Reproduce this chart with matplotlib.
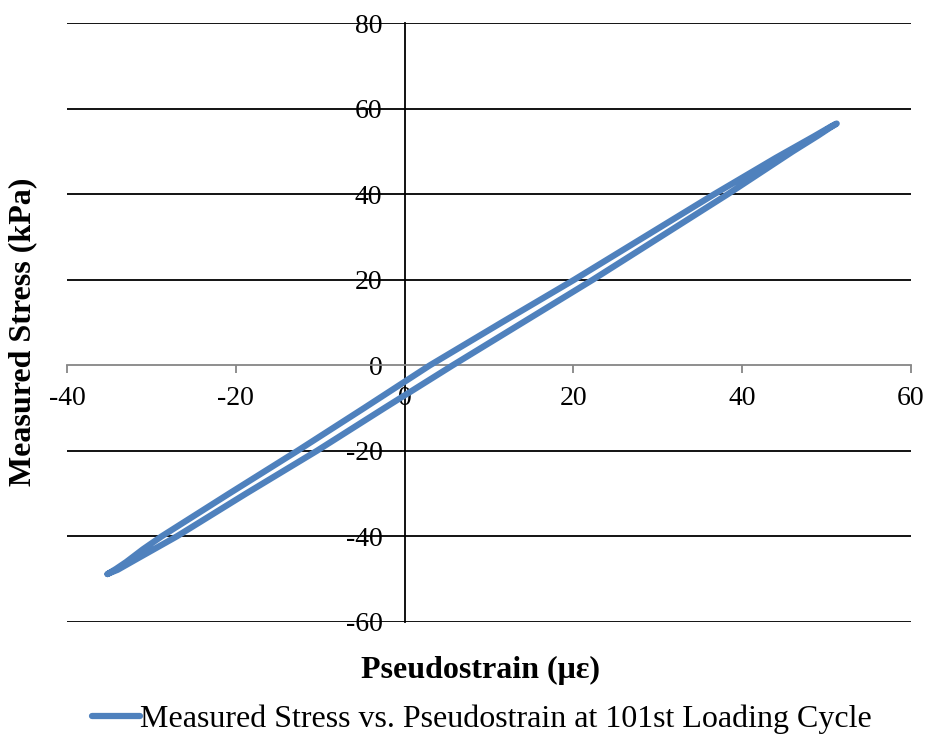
import matplotlib
matplotlib.use("Agg")
import matplotlib.pyplot as plt

plt.rcParams['font.family'] = ['Liberation Serif', 'DejaVu Serif']
plt.rcParams['axes.unicode_minus'] = False

# loop: upper branch left tip -> right tip, then lower branch back
pseudostrain = [-35.2, -34.2, -33.0, -31.0, -28.8, -20.8, -12.7, -4.8, 3.0, 11.5, 20.1, 28.4, 36.7, 44.0, 48.5, 50.6, 51.2,
                50.3, 49.0, 46.0, 38.3, 30.3, 22.3, 14.0, 5.7, -2.4, -10.4, -18.8, -27.0, -31.5, -34.0, -35.0, -35.2]
stress = [-48.8, -47.6, -46.0, -43.0, -40.0, -30.0, -20.0, -10.0, 0.0, 10.0, 20.0, 30.0, 40.0, 48.5, 53.5, 55.9, 56.5,
          55.4, 53.7, 50.0, 40.0, 30.0, 20.0, 10.0, 0.0, -10.0, -20.0, -30.0, -40.0, -45.0, -47.8, -48.6, -48.8]

x_ticks = [-40, -20, 0, 20, 40, 60]
y_ticks = [-60, -40, -20, 0, 20, 40, 60, 80]
series_label = "Measured Stress vs. Pseudostrain at 101st Loading Cycle"

fig = plt.figure(figsize=(9.27, 7.38), dpi=100)
ax = fig.add_axes([0.0723, 0.1572, 0.9104, 0.8116])

line, = ax.plot(pseudostrain, stress, color='#4f81bd', lw=4.5,
                solid_joinstyle='round', solid_capstyle='round', zorder=4)

ax.set_xlim(-40, 60)
ax.set_ylim(-60, 80)
ax.set_xticks(x_ticks)
ax.set_yticks(y_ticks)

for yv in y_ticks:
    if yv != 0:
        ax.axhline(yv, color='black', lw=1.3, zorder=1)

ax.spines['left'].set_position(('data', 0))
ax.spines['bottom'].set_position(('data', 0))
ax.spines['top'].set_visible(False)
ax.spines['right'].set_visible(False)
ax.spines['left'].set_color('black')
ax.spines['left'].set_linewidth(1.3)
ax.spines['bottom'].set_color('#868686')
ax.spines['bottom'].set_linewidth(1.3)
ax.spines['left'].set_zorder(2)
ax.spines['bottom'].set_zorder(2)

ax.tick_params(axis='x', direction='out', length=6, width=1.3, color='#868686',
               labelsize=20, pad=9)
ax.tick_params(axis='y', direction='out', length=0, labelsize=20, pad=16)

fig.text(0.024, 0.55, "Measured Stress (kPa)", rotation=90, ha='center', va='center',
         fontsize=23, fontweight='bold')
fig.text(0.518, 0.092, "Pseudostrain (\u03bc\u03b5)", ha='center', va='center',
         fontsize=23, fontweight='bold')

fig.legend([line], [series_label], loc='center', bbox_to_anchor=(0.52, 0.025),
           frameon=False, fontsize=23, handlelength=1.5, handletextpad=0.0,
           borderpad=0, borderaxespad=0)

fig.savefig("out.png", dpi=100)
